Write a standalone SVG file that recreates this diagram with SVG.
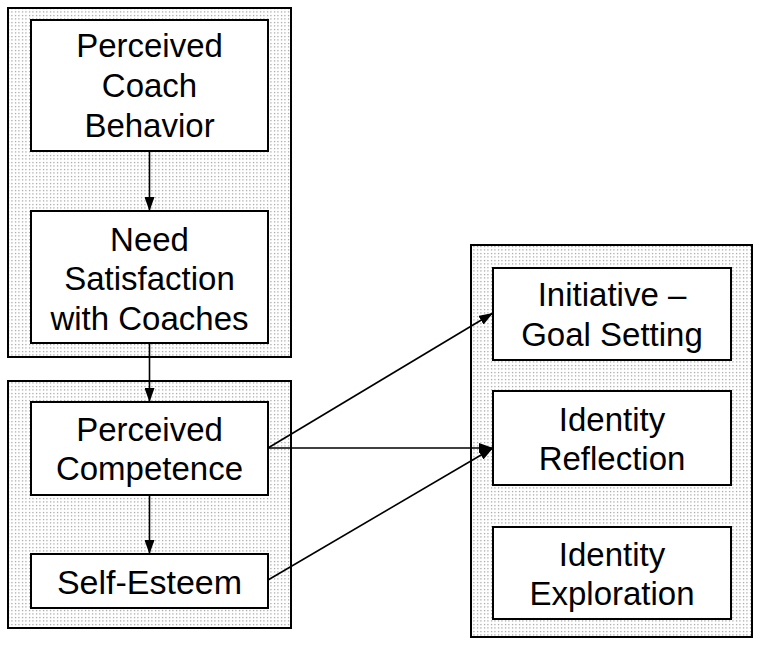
<svg xmlns="http://www.w3.org/2000/svg" width="762" height="649" viewBox="0 0 762 649">
<style>
.panel{fill:url(#dots);stroke:#000;stroke-width:2}
.box{fill:#fff;stroke:#000;stroke-width:2}
text{font-family:"Liberation Sans",Arial,sans-serif;font-size:33px;fill:#000;text-anchor:middle}
.conn line{stroke:#000;stroke-width:1.6;marker-end:url(#arr)}
</style>
<defs>
<pattern id="dots" patternUnits="userSpaceOnUse" width="3.5" height="3.5">
<rect width="3.5" height="3.5" fill="#fff"/>
<rect x="1" y="1" width="1" height="1" fill="#666"/>
</pattern>
<marker id="arr" viewBox="0 0 14 10" refX="14" refY="5" markerWidth="14" markerHeight="10" markerUnits="userSpaceOnUse" orient="auto">
<path d="M0,0 L14,5 L0,10 z" fill="#000"/>
</marker>
</defs>
<rect fill="#fff" width="762" height="649"/>
<rect class="panel" x="8" y="8" width="283" height="349"/>
<rect class="panel" x="8" y="381" width="283" height="247"/>
<rect class="panel" x="471" y="245" width="281" height="392"/>
<g id="pcb"><rect class="box" x="31" y="20" width="237" height="131"/>
<text x="149.5" y="57">Perceived</text><text x="149.5" y="97">Coach</text><text x="149.5" y="137">Behavior</text></g>
<g id="nsc"><rect class="box" x="31" y="211" width="237" height="132"/>
<text x="149.5" y="251">Need</text><text x="149.5" y="290">Satisfaction</text><text x="149.5" y="330">with Coaches</text></g>
<g id="pc"><rect class="box" x="31" y="402" width="237" height="93"/>
<text x="149.5" y="441">Perceived</text><text x="149.5" y="480">Competence</text></g>
<g id="se"><rect class="box" x="31" y="554" width="237" height="54"/>
<text x="149.5" y="594" style="font-size:34px">Self-Esteem</text></g>
<g id="igs"><rect class="box" x="493" y="268" width="238" height="92"/>
<text x="612" y="306">Initiative –</text><text x="612" y="346">Goal Setting</text></g>
<g id="ir"><rect class="box" x="493" y="391" width="238" height="94"/>
<text x="612" y="431">Identity</text><text x="612" y="470">Reflection</text></g>
<g id="ie"><rect class="box" x="493" y="527" width="238" height="92"/>
<text x="612" y="566">Identity</text><text x="612" y="605">Exploration</text></g>
<g class="conn">
<line x1="149.5" y1="151" x2="149.5" y2="211"/>
<line x1="149.5" y1="343" x2="149.5" y2="402"/>
<line x1="149.5" y1="495" x2="149.5" y2="554"/>
<line x1="268" y1="448" x2="493" y2="313"/>
<line x1="268" y1="448" x2="493" y2="448"/>
<line x1="268" y1="580" x2="493" y2="448"/>
</g>
</svg>
